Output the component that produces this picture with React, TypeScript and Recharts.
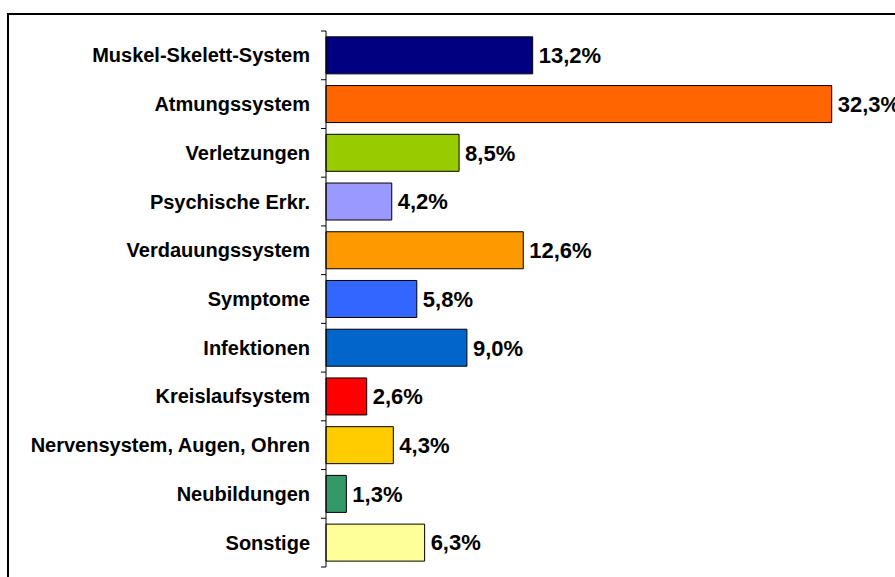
import React from 'react';
import { BarChart, Bar, XAxis, YAxis, Cell, LabelList } from 'recharts';

const categories = [
  'Muskel-Skelett-System',
  'Atmungssystem',
  'Verletzungen',
  'Psychische Erkr.',
  'Verdauungssystem',
  'Symptome',
  'Infektionen',
  'Kreislaufsystem',
  'Nervensystem, Augen, Ohren',
  'Neubildungen',
  'Sonstige',
];
const values = [13.2, 32.3, 8.5, 4.2, 12.6, 5.8, 9.0, 2.6, 4.3, 1.3, 6.3];
const colors = [
  '#000080', '#FF6600', '#99CC00', '#9999FF', '#FF9900', '#3366FF',
  '#0066CC', '#FF0000', '#FFCC00', '#339966', '#FFFF99',
];

const data = categories.map((name, i) => ({ name, value: values[i] }));

const FONT = '"Liberation Sans", Arial, Helvetica, sans-serif';

const CategoryTick = (props: any) => {
  const { x, y, payload, index } = props;
  const half = payload && typeof payload.offset === 'number' ? payload.offset : 536 / 22;
  return (
    <g>
      <text
        x={x - 16}
        y={y}
        textAnchor="end"
        dominantBaseline="central"
        fontFamily={FONT}
        fontWeight="bold"
        fontSize={20}
        fill="#000"
      >
        {payload.value}
      </text>
      {index === 0 && <line x1={x - 5} x2={x} y1={y - half} y2={y - half} stroke="#000" strokeWidth={1} />}
      <line x1={x - 5} x2={x} y1={y + half} y2={y + half} stroke="#000" strokeWidth={1} />
    </g>
  );
};

const fmt = (v: any) => Number(v).toFixed(1).replace('.', ',') + '%';

export default function App() {
  return (
    <div style={{ position: 'fixed', left: 0, top: 0, width: 895, height: 577, overflow: 'hidden', background: '#fff' }}>
      <div
        style={{
          position: 'absolute',
          left: 7,
          top: 13,
          width: 920,
          height: 620,
          border: '2px solid #000',
          boxSizing: 'border-box',
        }}
      />
      <div style={{ position: 'absolute', left: 0, top: 0 }}>
        <BarChart
          width={1000}
          height={600}
          data={data}
          layout="vertical"
          margin={{ top: 31, right: 126, bottom: 33, left: 0 }}
          barCategoryGap="12%"
        >
          <XAxis type="number" domain={[0, 35]} hide />
          <YAxis
            type="category"
            dataKey="name"
            width={326}
            axisLine={{ stroke: '#000', strokeWidth: 1 }}
            tickLine={false}
            tickSize={0}
            tickMargin={0}
            tick={<CategoryTick />}
            interval={0}
          />
          <Bar dataKey="value" stroke="#000" strokeWidth={1} isAnimationActive={false}>
            {data.map((d, i) => (
              <Cell key={d.name} fill={colors[i]} />
            ))}
            <LabelList
              dataKey="value"
              position="right"
              offset={6}
              formatter={fmt}
              fill="#000"
              fontFamily={FONT}
              fontWeight="bold"
              fontSize={22}
            />
          </Bar>
        </BarChart>
      </div>
    </div>
  );
}
